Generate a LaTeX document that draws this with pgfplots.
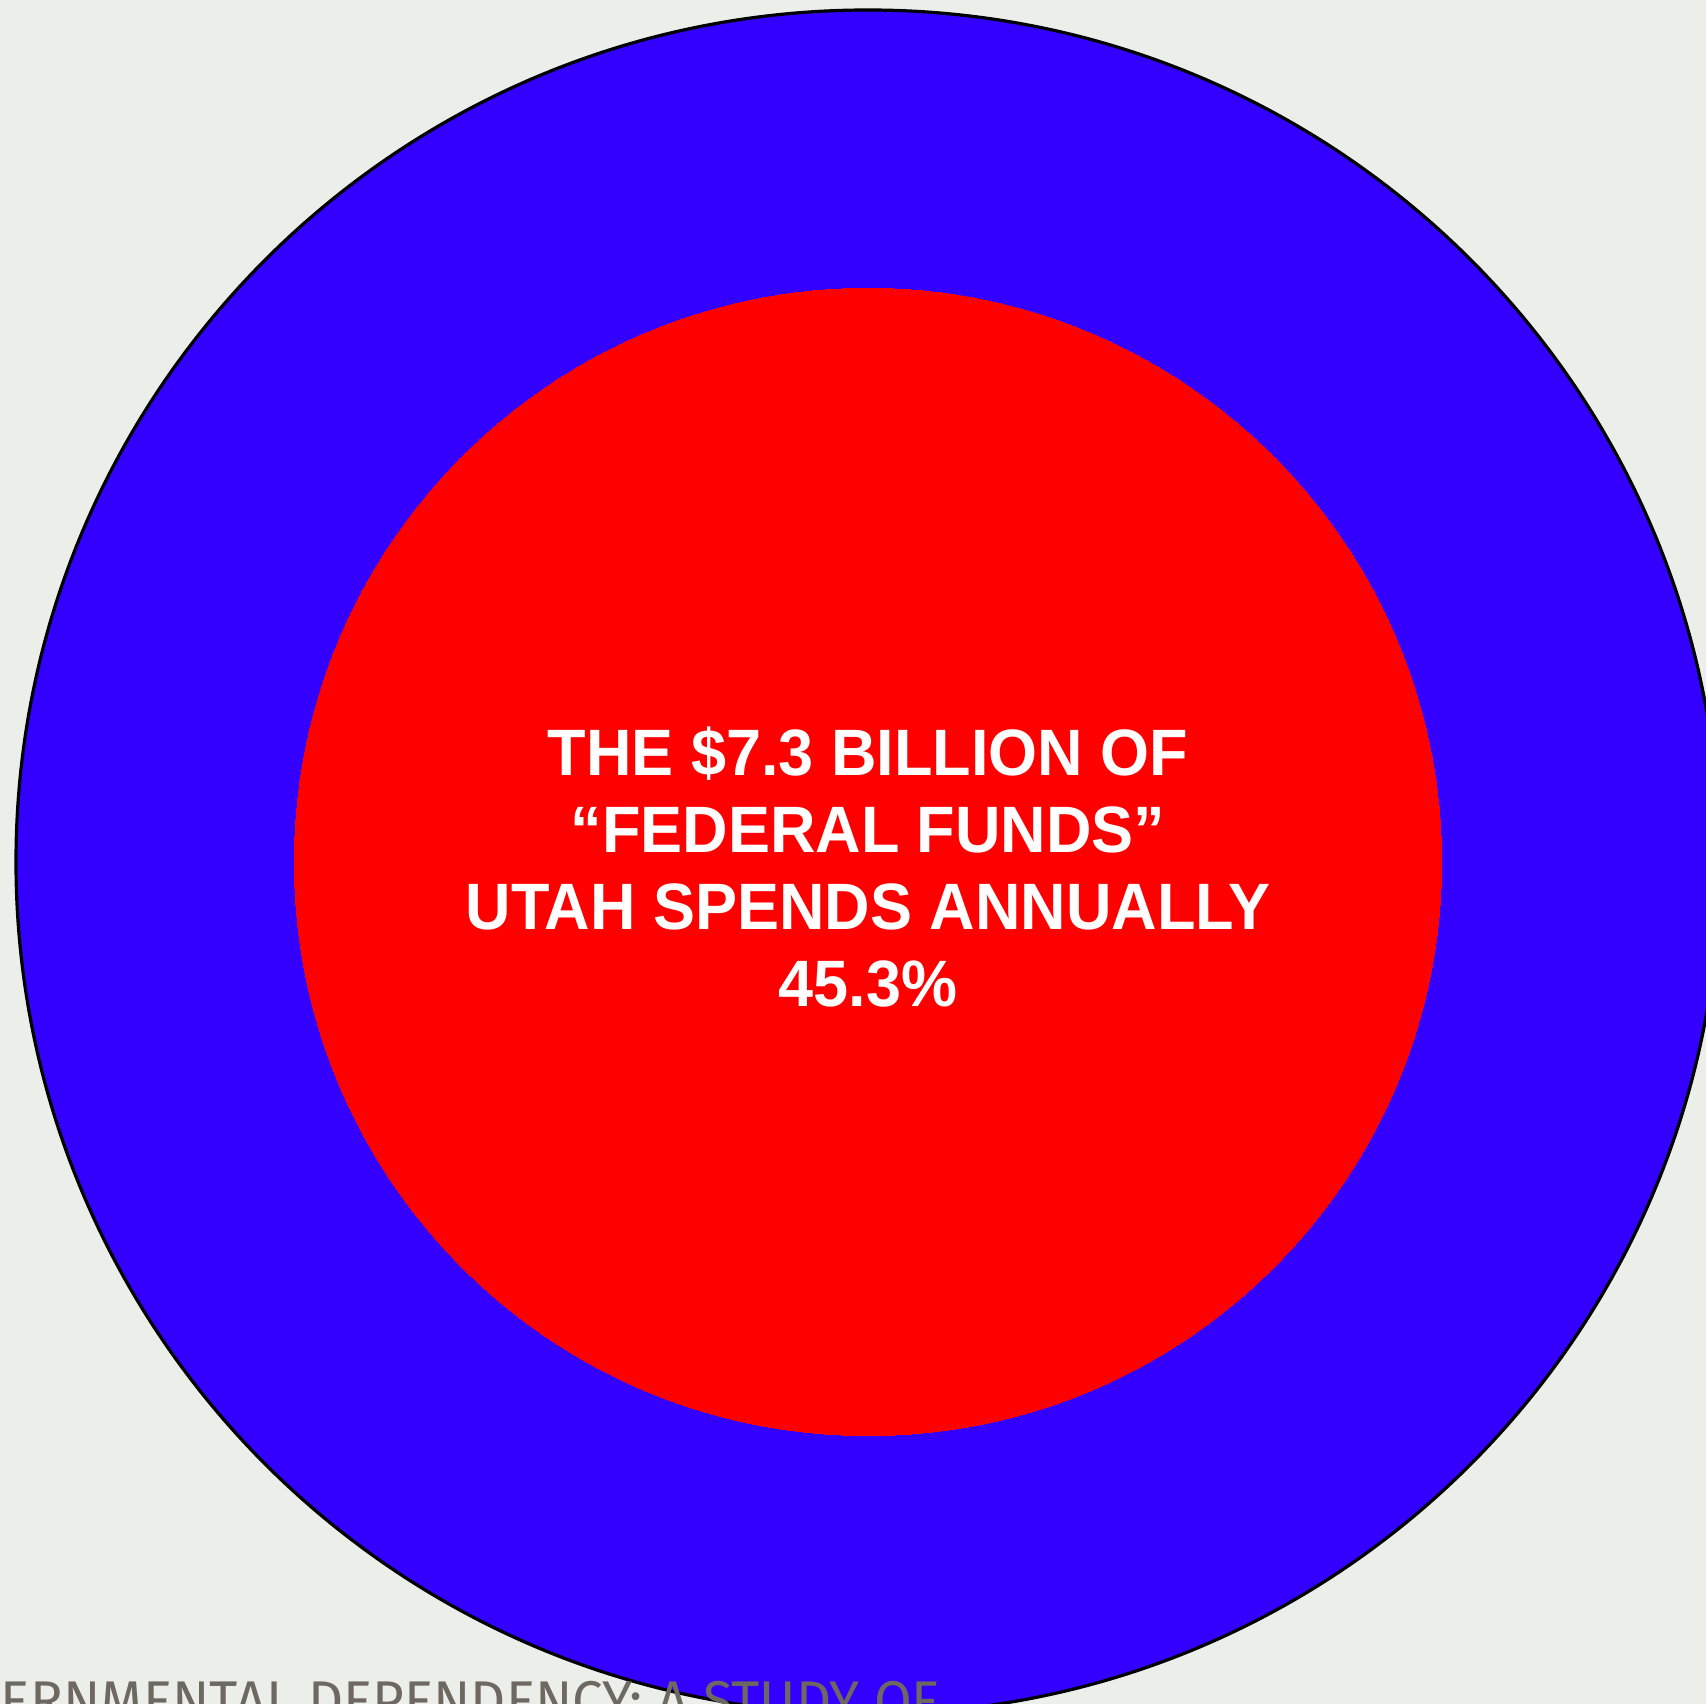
\documentclass[border=0pt]{standalone}
\usepackage{pgfplots}
\pgfplotsset{compat=1.18}
\usepackage{fontspec}
\setmainfont{Liberation Sans}
\newfontfamily\titlefont[FakeStretch=0.96]{Liberation Sans}
\newfontfamily\handfont{Fira Sans}
\definecolor{bg}{HTML}{ECEEEA}
\definecolor{ringblue}{HTML}{3300FF}
\definecolor{corered}{HTML}{FF0000}
\definecolor{foot}{HTML}{6E6862}
\begin{document}
\begin{tikzpicture}
\begin{axis}[
  scale only axis, width=426.5pt, height=426pt,
  xmin=0, xmax=1706, ymin=0, ymax=1704,
  axis line style={draw=none}, ticks=none,
  axis background/.style={fill=bg},
  clip=true,
]
% outer ring = 100% (radius 213pt); inner core = 45.3% of the area (radius 213*sqrt(0.453))
\addplot[only marks, mark=*, mark size=213pt,
  mark options={fill=ringblue, draw=black, line width=0.8pt}] coordinates {(868,842)};
\addplot[only marks, mark=*, mark size=143.4pt,
  mark options={fill=corered, draw=corered, line width=0pt}] coordinates {(868,842)};
\coordinate (l1) at (axis cs:868,928);
\coordinate (l2) at (axis cs:868,851);
\coordinate (l3) at (axis cs:868,774);
\coordinate (l4) at (axis cs:868,697);
\coordinate (ft) at (axis cs:0,-17);
\end{axis}
\tikzset{tl/.style={text=white, anchor=base, inner sep=0pt,
    font=\titlefont\bfseries\fontsize{16.4}{19}\selectfont}}
\node[tl] at (l1) {THE \$7.3 BILLION OF};
\node[tl] at (l2) {“FEDERAL FUNDS”};
\node[tl] at (l3) {UTAH SPENDS ANNUALLY};
\node[tl] at (l4) {45.3\%};
\node[anchor=base west, inner sep=0pt, text=foot,
  font=\handfont\fontsize{14}{14}\selectfont] at (ft)
  {\llap{\resizebox{!}{\height}{GOV}}\resizebox{234.5pt}{\height}{ERNMENTAL DEPENDENCY: A STUDY OF}};
\pgfresetboundingbox
\path (0,0) rectangle (426.5pt,426pt);
\end{tikzpicture}
\end{document}
